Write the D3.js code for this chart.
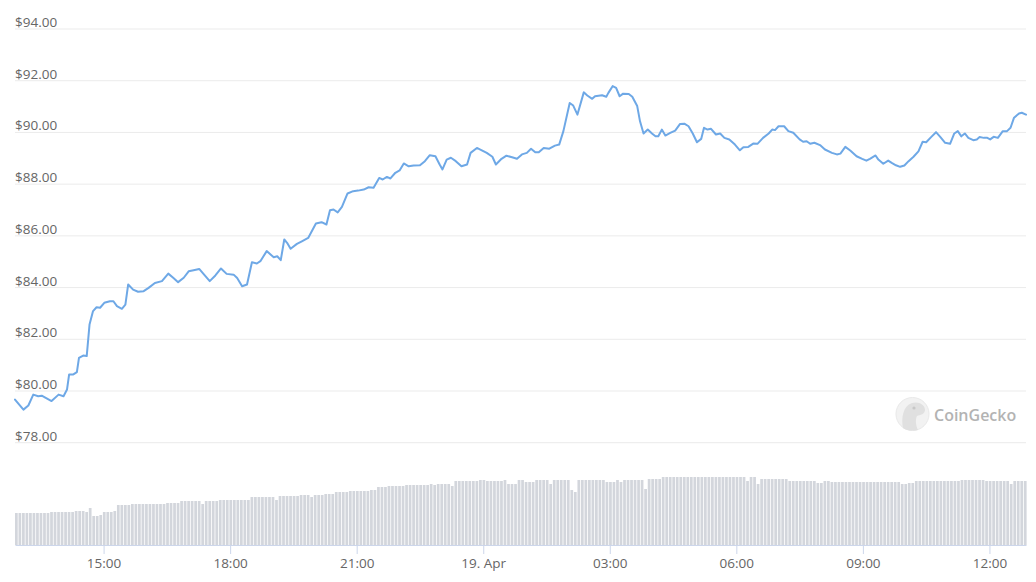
<!DOCTYPE html>
<html><head><meta charset="utf-8">
<script src="https://cdn.jsdelivr.net/npm/d3@7"></script>
<style>body{margin:0;background:#fff}svg{display:block}text{font-family:"Open Sans",sans-serif}</style>
</head><body><svg id="c" width="1036" height="582"></svg>
<script>
// Start of the 24h window (UTC used as the chart's clock)
const startTime = "2022-04-18T12:54:00Z";
// Price readings: minutes after start, and USD price
const priceMinutes = [0,12,19,26,33,38,52,62,69,74,77,83,88,91,97,102,106,111,116,121,127,135,140,145,152,157,161,168,175,183,190,199,209,218,225,232,240,247,254,262,269,277,285,293,301,311,316,323,330,337,344,349,358,368,373,378,383,387,392,401,408,417,428,436,443,448,453,459,465,473,481,488,496,503,510,518,523,529,534,541,547,553,560,567,576,583,590,598,604,608,614,620,627,635,643,648,657,664,671,679,684,692,699,707,714,721,728,734,740,745,752,760,768,774,780,789,794,800,809,814,821,825,835,841,844,850,855,860,865,873,878,885,889,894,900,906,911,915,920,925,932,939,946,952,958,964,970,976,980,985,990,997,1003,1009,1016,1024,1031,1036,1043,1050,1056,1064,1072,1077,1081,1086,1094,1100,1107,1116,1121,1126,1131,1137,1145,1152,1162,1169,1174,1181,1188,1197,1205,1211,1216,1224,1228,1235,1242,1247,1253,1259,1265,1271,1278,1285,1291,1296,1303,1310,1316,1323,1330,1336,1341,1346,1351,1356,1363,1368,1372,1378,1383,1387,1392,1398,1405,1411,1416,1421,1428,1432,1438];
const prices = [79.65,79.26,79.42,79.84,79.78,79.80,79.59,79.84,79.78,80.04,80.62,80.62,80.71,81.26,81.35,81.33,82.55,83.07,83.22,83.20,83.39,83.45,83.45,83.26,83.16,83.32,84.10,83.90,83.82,83.84,83.97,84.16,84.23,84.52,84.36,84.19,84.36,84.61,84.65,84.70,84.48,84.23,84.45,84.72,84.51,84.48,84.35,84.03,84.10,84.96,84.91,85.00,85.39,85.15,85.19,85.04,85.84,85.71,85.48,85.67,85.77,85.90,86.46,86.51,86.42,86.97,87.00,86.89,87.10,87.62,87.71,87.73,87.77,87.86,87.84,88.22,88.16,88.26,88.20,88.42,88.51,88.78,88.67,88.70,88.71,88.87,89.10,89.06,88.74,88.55,88.93,89.00,88.87,88.67,88.74,89.19,89.38,89.29,89.19,89.04,88.74,88.96,89.08,89.02,88.96,89.13,89.19,89.35,89.21,89.21,89.38,89.35,89.47,89.51,90.03,91.12,91.02,90.67,91.53,91.41,91.28,91.38,91.42,91.36,91.51,91.77,91.70,91.38,91.48,91.47,91.36,91.00,90.41,89.94,90.09,89.94,89.83,89.83,90.09,89.86,89.96,90.05,90.31,90.32,90.22,89.94,89.60,89.73,90.16,90.09,90.12,89.90,89.94,89.77,89.71,89.51,89.29,89.41,89.42,89.55,89.54,89.77,89.94,90.09,90.07,90.22,90.22,90.03,89.97,89.71,89.62,89.64,89.54,89.58,89.49,89.32,89.19,89.13,89.16,89.42,89.28,89.06,88.96,88.89,88.96,89.09,88.93,88.77,88.89,88.80,88.71,88.65,88.70,88.87,89.04,89.25,89.62,89.60,89.80,89.99,89.81,89.58,89.54,89.94,90.03,89.83,89.94,89.77,89.68,89.71,89.80,89.77,89.77,89.71,89.81,89.77,90.03,90.03,90.16,90.55,90.71,90.74,90.67];
// 24h rolling volume, one bar per 5 minutes (relative units)
const volumes = [
32,32,32,32,32,32,32,32,32,32,33,33,33,33,33,33,33,34,34,34,33,37,29,29,
30,33,33,33,34,40,40,40,40,41,41,41,41,41,41,41,41,41,41,42,42,42,42,44,
44,44,44,44,44,41,44,44,44,44,45,45,45,45,45,45,45,45,45,48,48,48,48,48,
48,48,45,49,49,49,49,49,49,50,50,50,48,50,50,50,51,51,51,53,53,53,53,54,
54,54,54,54,54,55,55,58,58,58,59,59,59,59,59,60,60,60,60,60,60,60,61,60,
61,61,61,61,59,64,64,64,64,64,64,64,65,65,64,64,64,64,64,65,61,61,61,65,
65,63,63,63,65,65,65,65,61,65,65,65,65,65,55,53,65,65,65,65,65,65,65,65,
63,63,63,65,63,65,65,65,65,65,65,56,66,66,66,66,68,68,68,68,68,68,68,68,
68,68,68,68,68,68,68,68,68,68,68,68,68,68,68,68,64,68,68,61,66,66,66,66,
66,66,66,66,64,64,64,64,64,64,64,64,62,62,64,64,63,63,63,63,63,63,63,63,
63,63,63,63,63,63,63,63,63,63,63,63,61,61,62,62,64,64,64,64,64,64,64,64,
64,64,64,64,64,65,65,65,65,65,65,65,64,64,64,64,64,64,64,61,64,64,64,64];
const volumeStepMinutes = 5;
const yTicks = [78,80,82,84,86,88,90,92,94];
const xTickTimes = ["2022-04-18T15:00:00Z","2022-04-18T18:00:00Z","2022-04-18T21:00:00Z","2022-04-19T00:00:00Z","2022-04-19T03:00:00Z","2022-04-19T06:00:00Z","2022-04-19T09:00:00Z","2022-04-19T12:00:00Z"];
const xTickLabels = ["15:00","18:00","21:00","19. Apr","03:00","06:00","09:00","12:00"];

const svg = d3.select("#c");
const t0 = new Date(startTime).getTime();
const MIN = 60000;
const priceData = priceMinutes.map((m,i)=>({t:new Date(t0+m*MIN), p:prices[i]}));
const volData = volumes.map((v,i)=>({t:new Date(t0+i*volumeStepMinutes*MIN), v}));

const x = d3.scaleUtc().domain([new Date(t0), new Date(t0+1438*MIN)]).range([15,1026]);
const y = d3.scaleLinear().domain([78,94]).range([442.2,28.5]);
const yv = d3.scaleLinear().domain([0,100]).range([545,445]);

// Y axis with gridlines
const gy = svg.append("g").attr("transform","translate(15,0)")
  .call(d3.axisRight(y).tickValues(yTicks).tickSize(1011).tickFormat(d=>"$"+d.toFixed(2)));
gy.select(".domain").remove();
gy.selectAll(".tick line").attr("stroke","#ebebeb");
gy.selectAll(".tick text").attr("x",0).attr("y",-2).attr("dy",null)
  .attr("text-anchor","start").attr("fill","#666").style("font-size","13.5px");

// Volume bars
svg.append("g").selectAll("rect").data(volData).join("rect")
  .attr("x",d=>x(d.t))
  .attr("width",d=>Math.max(0.5,x(new Date(+d.t+volumeStepMinutes*MIN))-x(d.t)-0.8))
  .attr("y",d=>yv(d.v))
  .attr("height",d=>545-yv(d.v))
  .attr("fill","#d3d6dc");

// X axis
const gx = svg.append("g").attr("transform","translate(0,545)")
  .call(d3.axisBottom(x).tickValues(xTickTimes.map(s=>new Date(s)))
    .tickFormat((d,i)=>xTickLabels[i]).tickSize(9).tickSizeOuter(0).tickPadding(4));
gx.select(".domain").attr("stroke","#ccd6eb");
gx.selectAll(".tick line").attr("stroke","#ccd6eb");
gx.selectAll(".tick text").attr("fill","#666").style("font-size","13.5px");

// Price line
svg.append("path").datum(priceData)
  .attr("fill","none").attr("stroke","#6ea8e6").attr("stroke-width",2)
  .attr("stroke-linejoin","round").attr("stroke-linecap","round")
  .attr("d", d3.line().x(d=>x(d.t)).y(d=>y(d.p)));

// Watermark
const wm = svg.append("g").attr("opacity",0.75);
wm.append("circle").attr("cx",912.5).attr("cy",414).attr("r",16.5).attr("fill","#eeeeee").attr("stroke","#e2e2e2");
wm.append("path").attr("d","M903,428 C901,418 903,406 912,403 C919,401 925,405 925,410 C925,414 920,415 917,416 C915,420 916,426 918,430 C913,431 907,431 903,428 Z").attr("fill","#d6d6d6");
wm.append("circle").attr("cx",914).attr("cy",408).attr("r",1.6).attr("fill","#b5b5b5");
wm.append("text").attr("x",934).attr("y",421).text("CoinGecko")
  .attr("fill","#9a9a9a").style("font-size","16px").style("font-weight","600");
</script></body></html>
